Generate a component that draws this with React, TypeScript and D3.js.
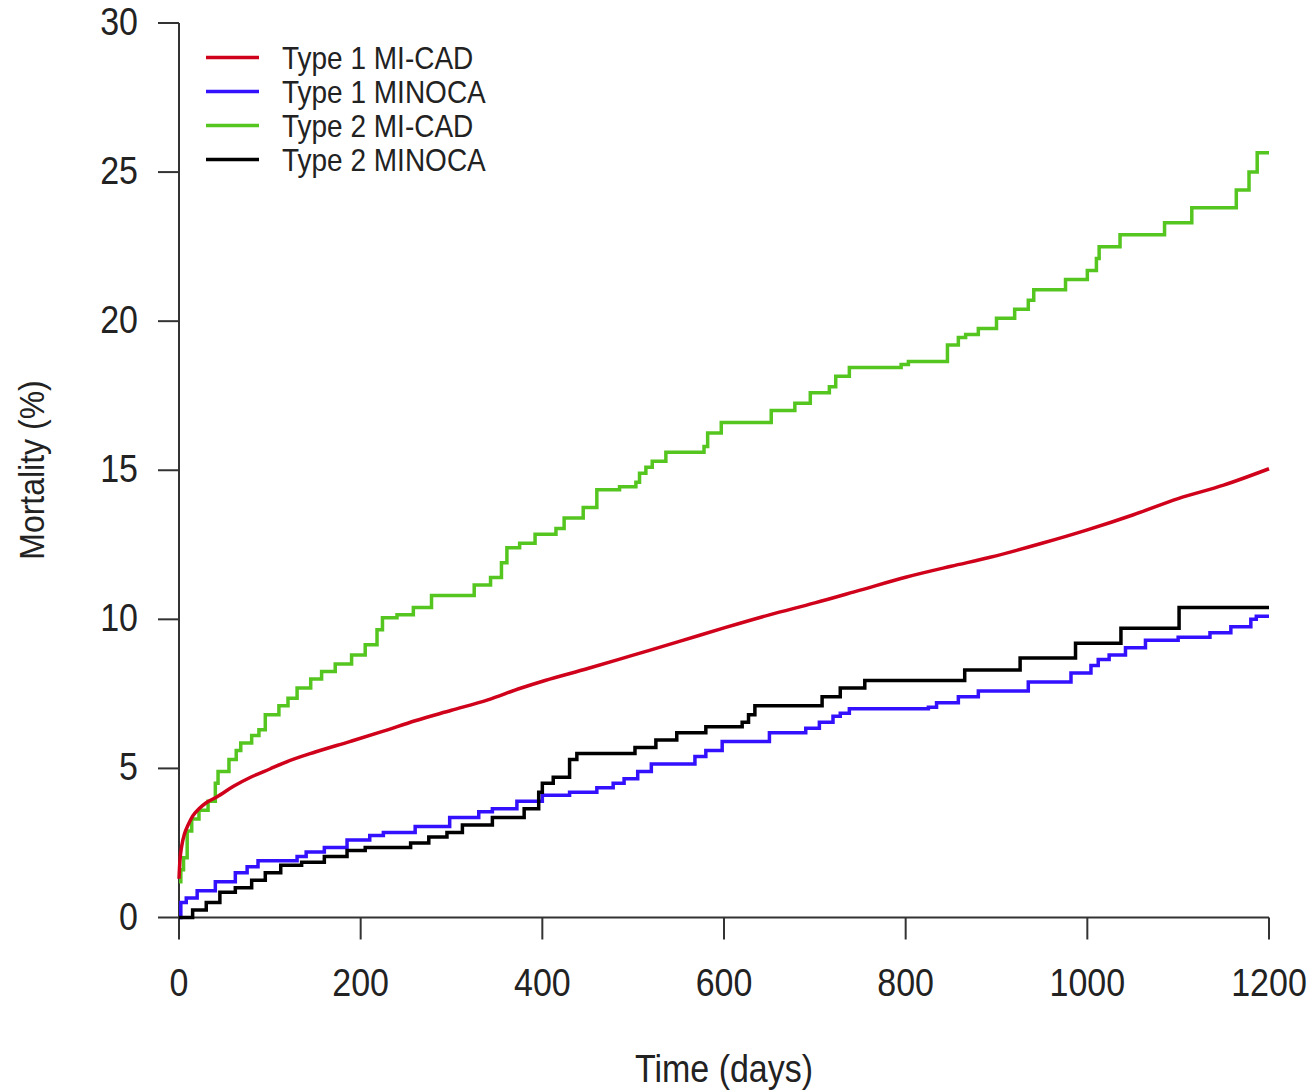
import React from "react";
import * as d3 from "d3";

// ---- Data ----
const xTicks = [0, 200, 400, 600, 800, 1000, 1200];
const yTicks = [0, 5, 10, 15, 20, 25, 30];

const seriesNames = ["Type 1 MI-CAD", "Type 1 MINOCA", "Type 2 MI-CAD", "Type 2 MINOCA"];
const seriesColors = ["#d0021b", "#3311ff", "#55c51f", "#000000"];

// Type 1 MI-CAD (dense, nearly smooth)
const type1MiCad: [number, number][] = [
  [0, 1.3], [1, 1.9], [3, 2.4], [6, 2.8], [10, 3.1], [15, 3.4], [22, 3.65], [30, 3.85],
  [42, 4.05], [60, 4.4], [80, 4.72], [100, 4.98], [115, 5.18], [150, 5.55], [188, 5.9],
  [225, 6.25], [260, 6.6], [300, 6.95], [340, 7.3], [375, 7.68], [403, 7.95], [450, 8.35],
  [500, 8.8], [550, 9.25], [601, 9.72], [650, 10.15], [700, 10.55], [750, 10.98],
  [801, 11.42], [850, 11.78], [893, 12.08], [950, 12.55], [1000, 13.0], [1050, 13.5],
  [1100, 14.05], [1150, 14.5], [1200, 15.05],
];

// Type 1 MINOCA (step changes: day, value)
const type1Minoca: [number, number][] = [
  [0, 0], [2, 0.5], [8, 0.65], [20, 0.9], [40, 1.2], [62, 1.5], [75, 1.7], [87, 1.9],
  [130, 2.05], [140, 2.2], [160, 2.35], [185, 2.6], [210, 2.75], [225, 2.85], [260, 3.05],
  [298, 3.35], [330, 3.55], [345, 3.65], [372, 3.9], [400, 4.1], [430, 4.2], [460, 4.35],
  [478, 4.5], [490, 4.65], [505, 4.9], [520, 5.15], [568, 5.4], [580, 5.6], [598, 5.9],
  [650, 6.2], [690, 6.35], [705, 6.55], [720, 6.75], [728, 6.85], [738, 7.0], [825, 7.05],
  [834, 7.2], [858, 7.4], [880, 7.6], [935, 7.9], [982, 8.2], [1004, 8.45], [1012, 8.65],
  [1024, 8.8], [1042, 9.05], [1064, 9.3], [1100, 9.4], [1135, 9.55], [1158, 9.75],
  [1180, 10.0], [1186, 10.1], [1200, 10.1],
];

// Type 2 MI-CAD (step changes)
const type2MiCad: [number, number][] = [
  [0, 1.2], [2, 1.6], [5, 2.0], [9, 2.9], [14, 3.3], [22, 3.6], [32, 3.9], [40, 4.5],
  [43, 4.9], [55, 5.3], [63, 5.6], [68, 5.85], [80, 6.1], [88, 6.3], [95, 6.8], [110, 7.1],
  [120, 7.35], [130, 7.7], [145, 8.0], [157, 8.25], [172, 8.5], [190, 8.8], [205, 9.15],
  [218, 9.65], [224, 10.05], [240, 10.15], [258, 10.4], [278, 10.8], [325, 11.15],
  [343, 11.4], [355, 11.9], [361, 12.4], [375, 12.55], [392, 12.85], [415, 13.05],
  [424, 13.4], [445, 13.75], [460, 14.35], [485, 14.45], [503, 14.6], [507, 14.9],
  [514, 15.1], [521, 15.3], [536, 15.6], [578, 15.8], [582, 16.25], [597, 16.6],
  [652, 17.0], [678, 17.25], [695, 17.6], [716, 17.8], [723, 18.15], [738, 18.45],
  [795, 18.55], [803, 18.65], [846, 19.2], [858, 19.45], [866, 19.55], [880, 19.75],
  [900, 20.1], [920, 20.4], [935, 20.7], [941, 21.05], [976, 21.4], [1000, 21.7],
  [1010, 22.1], [1013, 22.5], [1036, 22.9], [1085, 23.3], [1115, 23.8], [1164, 24.4],
  [1178, 25.0], [1187, 25.65], [1200, 25.65],
];

// Type 2 MINOCA (step changes)
const type2Minoca: [number, number][] = [
  [0, 0], [15, 0.25], [30, 0.5], [45, 0.85], [62, 1.0], [80, 1.25], [95, 1.5], [112, 1.75],
  [135, 1.85], [160, 2.05], [185, 2.25], [205, 2.35], [255, 2.5], [275, 2.7], [295, 2.85],
  [312, 3.1], [345, 3.35], [380, 3.65], [396, 4.2], [400, 4.5], [412, 4.7], [430, 5.3],
  [438, 5.5], [502, 5.7], [525, 5.95], [548, 6.2], [580, 6.4], [620, 6.55], [627, 6.8],
  [634, 7.1], [708, 7.4], [728, 7.7], [755, 7.95], [865, 8.3], [926, 8.7], [987, 9.2],
  [1037, 9.7], [1101, 10.4], [1200, 10.4],
];

const seriesData = [type1MiCad, type1Minoca, type2MiCad, type2Minoca];
const seriesStep = [false, true, true, true];

const FONT = "'Liberation Sans', Arial, sans-serif";
const VS = 1.12; // vertical stretch of reference text

export default function App() {
  const W = 1312, H = 1091;
  const x = d3.scaleLinear().domain([0, 1200]).range([179, 1269]);
  const y = d3.scaleLinear().domain([0, 30]).range([917.5, 23]);
  const axisColor = "#333";

  const stepLine = d3.line<[number, number]>().x((d) => x(d[0])).y((d) => y(d[1])).curve(d3.curveStepAfter);
  const smoothLine = d3.line<[number, number]>().x((d) => x(d[0])).y((d) => y(d[1])).curve(d3.curveMonotoneX);

  const drawOrder = [2, 0, 1, 3];

  return (
    <div style={{ position: "absolute", left: 0, top: 0 }}>
      <svg width={W} height={H} style={{ display: "block", background: "#fff" }}>
        {/* Y axis */}
        <line x1={179} x2={179} y1={y(0)} y2={y(30)} stroke={axisColor} strokeWidth={2} />
        {yTicks.map((t) => (
          <g key={"yt" + t}>
            <line x1={158} x2={179} y1={y(t)} y2={y(t)} stroke={axisColor} strokeWidth={2} />
            <text
              transform={`translate(138,${y(t) + 12}) scale(1,${VS})`}
              textAnchor="end"
              fontFamily={FONT}
              fontSize={34}
              fill="#222"
            >
              {t}
            </text>
          </g>
        ))}
        {/* X axis */}
        <line x1={x(0)} x2={x(1200)} y1={y(0)} y2={y(0)} stroke={axisColor} strokeWidth={2} />
        {xTicks.map((t) => (
          <g key={"xt" + t}>
            <line x1={x(t)} x2={x(t)} y1={y(0)} y2={y(0) + 22} stroke={axisColor} strokeWidth={2} />
            <text
              transform={`translate(${x(t)},996) scale(1,${VS})`}
              textAnchor="middle"
              fontFamily={FONT}
              fontSize={34}
              fill="#222"
            >
              {t}
            </text>
          </g>
        ))}
        {/* Axis titles */}
        <text
          transform={`translate(724,1082) scale(1,${VS})`}
          textAnchor="middle"
          fontFamily={FONT}
          fontSize={34}
          fill="#222"
        >
          Time (days)
        </text>
        <text
          transform={`translate(44,470) rotate(-90) scale(1,${VS})`}
          textAnchor="middle"
          fontFamily={FONT}
          fontSize={32}
          fill="#222"
        >
          Mortality (%)
        </text>

        {/* Series */}
        {drawOrder.map((i) => (
          <path
            key={"s" + i}
            d={(seriesStep[i] ? stepLine : smoothLine)(seriesData[i]) || ""}
            fill="none"
            stroke={seriesColors[i]}
            strokeWidth={3.5}
            strokeLinejoin="miter"
          />
        ))}

        {/* Legend */}
        {seriesNames.map((name, i) => {
          const ly = 57.5 + i * 34;
          return (
            <g key={"lg" + i}>
              <line x1={206} x2={259} y1={ly} y2={ly} stroke={seriesColors[i]} strokeWidth={3.5} />
              <text
                transform={`translate(282,${ly + 11}) scale(1,${VS})`}
                fontFamily={FONT}
                fontSize={28}
                fill="#222"
              >
                {name}
              </text>
            </g>
          );
        })}
      </svg>
    </div>
  );
}
